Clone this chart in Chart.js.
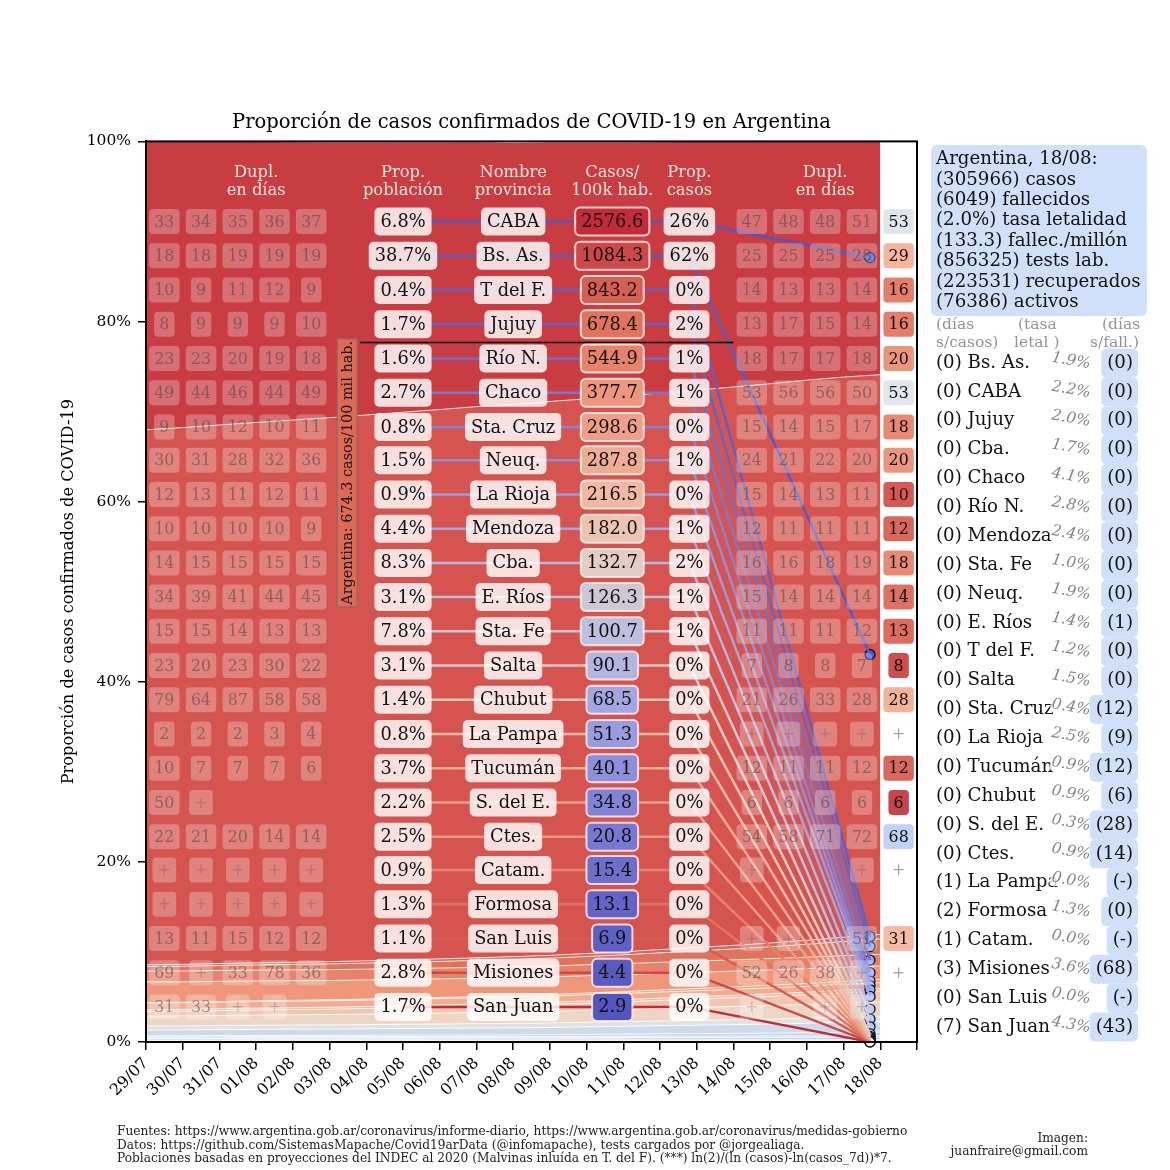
<!DOCTYPE html>
<html>
<head>
<meta charset="utf-8">
<title>Proporción de casos COVID-19</title>
<script src="https://cdn.jsdelivr.net/npm/chart.js@4"></script>
<style>
  html, body { margin: 0; padding: 0; background: #fff; }
  canvas { display: block; }
</style>
</head>
<body>
<canvas id="covidChart" width="1170" height="1170"></canvas>
<script>
var dateLabels = ["29/07", "30/07", "31/07", "01/08", "02/08", "03/08", "04/08", "05/08", "06/08", "07/08", "08/08",
    "09/08", "10/08", "11/08", "12/08", "13/08", "14/08", "15/08", "16/08", "17/08", "18/08"];

// table rows, top to bottom
var rowNames = ["CABA", "Bs. As.", "T del F.", "Jujuy", "Río N.", "Chaco", "Sta. Cruz", "Neuq.", "La Rioja", "Mendoza", "Cba.", "E. Ríos",
    "Sta. Fe", "Salta", "Chubut", "La Pampa", "Tucumán", "S. del E.", "Ctes.", "Catam.", "Formosa", "San Luis", "Misiones", "San Juan"];
var popShare = [6.8, 38.7, 0.4, 1.7, 1.6, 2.7, 0.8, 1.5, 0.9, 4.4, 8.3, 3.1, 7.8, 3.1, 1.4, 0.8, 3.7, 2.2, 2.5, 0.9, 1.3, 1.1, 2.8, 1.7];
var casesPer100k = ["2576.6", "1084.3", "843.2", "678.4", "544.9", "377.7", "298.6", "287.8", "216.5", "182.0", "132.7", "126.3",
    "100.7", "90.1", "68.5", "51.3", "40.1", "34.8", "20.8", "15.4", "13.1", "6.9", "4.4", "2.9"];
var caseShare = [26, 62, 0, 2, 1, 1, 0, 1, 0, 1, 2, 1, 1, 0, 0, 0, 0, 0, 0, 0, 0, 0, 0, 0];

// doubling days, "+" = no doubling, null = empty
var dupLeft = [
    [33, 34, 35, 36, 37], [18, 18, 19, 19, 19], [10, 9, 11, 12, 9], [8, 9, 9, 9, 10], [23, 23, 20, 19, 18], [49, 44, 46, 44, 49],
    [9, 10, 12, 10, 11], [30, 31, 28, 32, 36], [12, 13, 11, 12, 11], [10, 10, 10, 10, 9], [14, 15, 15, 15, 15], [34, 39, 41, 44, 45],
    [15, 15, 14, 13, 13], [23, 20, 23, 30, 22], [79, 64, 87, 58, 58], [2, 2, 2, 3, 4], [10, 7, 7, 7, 6], [50, "+", null, null, null],
    [22, 21, 20, 14, 14], ["+", "+", "+", "+", "+"], ["+", "+", "+", "+", "+"], [13, 11, 15, 12, 12], [69, "+", 33, 78, 36], [31, 33, "+", "+", null]];
var dupRight = [
    [47, 48, 48, 51], [25, 25, 25, 28], [14, 13, 13, 14], [13, 17, 15, 14], [18, 17, 17, 18], [53, 56, 56, 50],
    [15, 14, 15, 17], [24, 21, 22, 20], [15, 14, 13, 11], [12, 11, 11, 11], [16, 16, 18, 19], [15, 14, 14, 14],
    [11, 11, 11, 12], [7, 8, 8, 7], [21, 26, 33, 28], ["+", "+", "+", "+"], [12, 11, 11, 12], [6, 6, 6, 6],
    [54, 58, 71, 72], ["+", null, null, "+"], [null, null, null, null], ["+", "+", null, 51], [52, 26, 38, "+"], ["+", null, "+", "+"]];
var dupLast = [53, 29, 16, 16, 20, 53, 18, 20, 10, 12, 18, 14, 13, 8, 28, "+", 12, 6, 68, "+", null, 31, "+", null];

// share of cases per day (%), same order as rowNames
var shareCABA = [32.1, 31.8, 31.5, 31.2, 30.9, 30.6, 30.3, 30.0, 29.7, 29.4, 29.1, 28.8, 28.5, 28.2, 27.9, 27.6, 27.3, 27.0, 26.6, 26.3, 26.0];
var shareBsAs = [59.4, 59.6, 59.8, 60.0, 60.2, 60.4, 60.6, 60.8, 61.0, 61.2, 61.3, 61.5, 61.6, 61.7, 61.8, 61.9, 62.0, 62.1, 62.2, 62.2, 62.15];
var shareTdF = [.20, .21, .22, .23, .24, .25, .26, .27, .28, .29, .30, .31, .32, .34, .36, .38, .40, .42, .44, .47, .50];
var shareJujuy = [.50, .52, .55, .58, .61, .64, .67, .70, .74, .78, .82, .87, .92, .98, 1.05, 1.13, 1.21, 1.31, 1.43, 1.57, 1.71];
var shareRioN = [1.20, 1.20, 1.20, 1.20, 1.20, 1.20, 1.20, 1.20, 1.20, 1.20, 1.21, 1.21, 1.22, 1.22, 1.23, 1.24, 1.25, 1.26, 1.27, 1.28, 1.29];
var shareChaco = [2.30, 2.27, 2.24, 2.21, 2.18, 2.15, 2.12, 2.09, 2.06, 2.03, 2.00, 1.96, 1.92, 1.88, 1.84, 1.80, 1.75, 1.70, 1.65, 1.58, 1.51];
var shareStaCruz = [.05, .06, .07, .08, .09, .10, .11, .12, .13, .14, .15, .17, .19, .21, .23, .25, .27, .29, .31, .33, .35];
var shareNeuq = [.75, .74, .74, .73, .73, .72, .72, .71, .71, .70, .70, .69, .69, .68, .68, .67, .67, .66, .66, .65, .64];
var shareRioja = [.20, .20, .20, .21, .21, .21, .22, .22, .22, .23, .23, .24, .24, .25, .25, .26, .26, .27, .27, .28, .29];
var shareMendoza = [.50, .52, .54, .56, .58, .60, .62, .65, .68, .71, .74, .77, .81, .85, .89, .93, .97, 1.02, 1.07, 1.13, 1.19];
var shareCba = [1.10, 1.11, 1.12, 1.13, 1.14, 1.15, 1.17, 1.19, 1.21, 1.23, 1.26, 1.29, 1.32, 1.35, 1.39, 1.43, 1.47, 1.51, 1.55, 1.59, 1.63];
var shareERios = [.45, .45, .46, .46, .46, .47, .47, .48, .48, .49, .49, .50, .51, .52, .53, .54, .55, .55, .56, .57, .58];
var shareStaFe = [.65, .66, .67, .68, .69, .70, .71, .73, .75, .77, .79, .81, .84, .87, .90, .93, .97, 1.01, 1.06, 1.11, 1.16];
var shareSalta = [.12, .12, .13, .13, .14, .14, .15, .16, .17, .18, .19, .20, .22, .24, .26, .28, .30, .32, .35, .38, .41];
var shareChubut = [.13, .13, .13, .13, .13, .13, .13, .13, .13, .13, .13, .13, .13, .13, .14, .14, .14, .14, .14, .14, .14];
var shareLaPampa = [.05, .05, .05, .05, .05, .05, .05, .05, .05, .05, .05, .05, .06, .06, .06, .06, .06, .06, .06, .06, .06];
var shareTucuman = [.15, .15, .16, .16, .16, .16, .17, .17, .17, .18, .18, .18, .19, .19, .20, .20, .20, .21, .21, .22, .22];
var shareSdelE = [.05, .05, .05, .06, .06, .06, .06, .07, .07, .07, .08, .08, .08, .09, .09, .09, .10, .10, .10, .11, .11];
var shareCtes = [.09, .09, .09, .09, .09, .09, .09, .09, .09, .09, .09, .09, .09, .08, .08, .08, .08, .08, .08, .08, .08];
var shareCatam = [0, 0, 0, .01, .01, .01, .01, .01, .01, .01, .01, .01, .01, .02, .02, .02, .02, .02, .02, .02, .02];
var shareFormosa = [.03, .03, .03, .03, .03, .03, .03, .03, .02, .02, .02, .02, .02, .02, .02, .02, .02, .02, .02, .02, .02];
var shareSanLuis = [.01, .01, .01, .01, .01, .01, .01, .01, .01, .01, .01, .01, .01, .01, .01, .01, .01, .01, .01, .01, .01];
var shareMisiones = [.03, .03, .03, .03, .03, .03, .03, .03, .03, .03, .02, .02, .02, .02, .02, .02, .02, .02, .02, .02, .02];
var shareSanJuan = [.02, .02, .02, .02, .02, .02, .02, .02, .02, .01, .01, .01, .01, .01, .01, .01, .01, .01, .01, .01, .01];
var shareByRow = [shareCABA, shareBsAs, shareTdF, shareJujuy, shareRioN, shareChaco, shareStaCruz, shareNeuq, shareRioja, shareMendoza, shareCba, shareERios,
    shareStaFe, shareSalta, shareChubut, shareLaPampa, shareTucuman, shareSdelE, shareCtes, shareCatam, shareFormosa, shareSanLuis, shareMisiones, shareSanJuan];

// y position (in %) of every table row
var rowLevels = [91.1, 87.3, 83.5, 79.7, 75.9, 72.1, 68.3, 64.6, 60.8, 57.0, 53.2, 49.4, 45.6, 41.8, 38.0, 34.2, 30.4, 26.6, 22.8, 19.1, 15.3, 11.5, 7.7, 3.9];
var nationalLevel = 77.67;

// side list
var summaryLines = ["Argentina, 18/08:", "(305966) casos", "(6049) fallecidos", "(2.0%) tasa letalidad", "(133.3) fallec./millón",
    "(856325) tests lab.", "(223531) recuperados", "(76386) activos"];
var sideNames = ["Bs. As.", "CABA", "Jujuy", "Cba.", "Chaco", "Río N.", "Mendoza", "Sta. Fe", "Neuq.", "E. Ríos", "T del F.", "Salta",
    "Sta. Cruz", "La Rioja", "Tucumán", "Chubut", "S. del E.", "Ctes.", "La Pampa", "Formosa", "Catam.", "Misiones", "San Luis", "San Juan"];
var sideDays = [0, 0, 0, 0, 0, 0, 0, 0, 0, 0, 0, 0, 0, 0, 0, 0, 0, 0, 1, 2, 1, 3, 0, 7];
var sideLethality = ["1.9", "2.2", "2.0", "1.7", "4.1", "2.8", "2.4", "1.0", "1.9", "1.4", "1.2", "1.5", "0.4", "2.5", "0.9", "0.9", "0.3", "0.9", "0.0", "1.3", "0.0", "3.6", "0.0", "4.3"];
var sideDeathDays = ["0", "0", "0", "0", "0", "0", "0", "0", "0", "1", "0", "0", "12", "9", "12", "6", "28", "14", "-", "0", "-", "68", "-", "43"];

var footerLines = ["Fuentes: https://www.argentina.gob.ar/coronavirus/informe-diario, https://www.argentina.gob.ar/coronavirus/medidas-gobierno",
    "Datos: https://github.com/SistemasMapache/Covid19arData (@infomapache), tests cargados por @jorgealiaga.",
    "Poblaciones basadas en proyecciones del INDEC al 2020 (Malvinas inluída en T. del F). (***) ln(2)/(ln (casos)-ln(casos_7d))*7."];

var SERIF = '"DejaVu Serif"';

function mix(stops, t) {
    for (var i = 1; i < stops.length; i++) {
        if (t <= stops[i][0] || i === stops.length - 1) {
            var a = stops[i - 1], b = stops[i];
            var k = Math.min(1, Math.max(0, (t - a[0]) / (b[0] - a[0])));
            return [1, 2, 3].map(function(c) { return Math.round(a[c] + (b[c] - a[c]) * k); });
        }
    }
}

// blue to pale to red, low to high
var rateStops = [[0, 85, 85, 190], [.13, 100, 100, 200], [.26, 130, 130, 215], [.39, 165, 165, 225], [.435, 180, 180, 225], [.478, 190, 190, 222],
    [.52, 205, 200, 212], [.55, 220, 207, 205], [.6, 236, 197, 182], [.652, 240, 185, 165], [.72, 238, 165, 140], [.783, 236, 150, 125],
    [.826, 230, 130, 105], [.87, 224, 115, 92], [.913, 214, 95, 82], [.957, 205, 72, 72], [1, 195, 42, 58]];
// the areas run paler than the boxes at the low end
var bandStops = [[0, 150, 175, 225], [.3, 180, 200, 235], [.478, 205, 218, 235], [.52, 225, 225, 225], [.55, 235, 220, 205],
    [.6, 240, 200, 180], [.652, 243, 185, 160], [.72, 244, 165, 135], [.783, 240, 150, 122], [.826, 232, 130, 105], [.87, 224, 115, 92],
    [.913, 218, 100, 85], [.957, 213, 84, 79], [1, 201, 60, 66]];
var dupStops = [[6, 198, 68, 76], [10, 214, 90, 84], [16, 228, 125, 105], [20, 236, 148, 125], [30, 246, 186, 160], [53, 225, 230, 236], [70, 188, 208, 246]];

function rgb(c, a) { return 'rgba(' + c[0] + ',' + c[1] + ',' + c[2] + ',' + (a === undefined ? 1 : a) + ')'; }
function rank(i) { return 1 - i / (rowNames.length - 1); }

function boxText(ctx, text, x, y, o) {
    ctx.font = o.font;
    var w = ctx.measureText(text).width + o.pad * 2;
    var h = o.h;
    if (o.fill || o.stroke) {
        ctx.beginPath();
        ctx.roundRect(x - w / 2, y - h / 2, w, h, o.r || 5);
        if (o.fill) { ctx.fillStyle = o.fill; ctx.fill(); }
        if (o.stroke) { ctx.strokeStyle = o.stroke; ctx.lineWidth = 2; ctx.stroke(); }
    }
    ctx.fillStyle = o.color;
    ctx.textAlign = 'center';
    ctx.textBaseline = 'middle';
    ctx.fillText(text, x, y + 1);
}

function drawTable(chart) {
    var ctx = chart.ctx, sx = chart.scales.x, sy = chart.scales.y;
    ctx.save();
    var headers = [[3, "Dupl.", "en días"], [7, "Prop.", "población"], [10, "Nombre", "provincia"], [12.7, "Casos/", "100k hab."], [14.8, "Prop.", "casos"], [18.5, "Dupl.", "en días"]];
    ctx.font = '16.3px ' + SERIF;
    ctx.fillStyle = 'rgba(255,238,232,.95)';
    ctx.textAlign = 'center';
    ctx.textBaseline = 'middle';
    headers.forEach(function(h) {
        var x = sx.getPixelForValue(h[0]);
        ctx.fillText(h[1], x, 172.5);
        ctx.fillText(h[2], x, 191);
    });

    var dupFont = '15.8px ' + SERIF, cellFont = '17.8px ' + SERIF;
    function dupCell(v, col, y) {
        if (v === null) return;
        var label = String(v);
        boxText(ctx, label, sx.getPixelForValue(col), y, { font: dupFont, pad: 5.2, h: 25, r: 4, fill: 'rgba(255,255,255,.27)', color: v === '+' ? 'rgba(90,70,70,.28)' : 'rgba(70,60,60,.5)' });
    }
    rowNames.forEach(function(name, i) {
        var y = sy.getPixelForValue(rowLevels[i]);
        dupLeft[i].forEach(function(v, c) { dupCell(v, c + .5, y); });
        dupRight[i].forEach(function(v, c) { dupCell(v, c + 16.5, y); });
        var last = dupLast[i];
        if (last === '+') {
            boxText(ctx, '+', sx.getPixelForValue(20.5), y, { font: dupFont, pad: 5, h: 25, color: 'rgba(120,120,120,.7)' });
        } else if (last !== null) {
            boxText(ctx, String(last), sx.getPixelForValue(20.5), y, { font: dupFont, pad: 5.2, h: 25, r: 4, fill: rgb(mix(dupStops, last)), color: '#111' });
        }
        var pale = 'rgba(255,255,255,.82)';
        boxText(ctx, popShare[i].toFixed(1) + '%', sx.getPixelForValue(7), y, { font: cellFont, pad: 6, h: 28, fill: pale, color: '#111' });
        boxText(ctx, name, sx.getPixelForValue(10), y, { font: cellFont, pad: 6, h: 28, fill: pale, color: '#111' });
        boxText(ctx, casesPer100k[i], sx.getPixelForValue(12.7), y, { font: cellFont, pad: 6, h: 28, fill: rgb(mix(rateStops, rank(i))), stroke: 'rgba(255,240,235,.85)', color: '#111' });
        boxText(ctx, caseShare[i] + '%', sx.getPixelForValue(14.8), y, { font: cellFont, pad: 6, h: 28, fill: pale, color: '#111' });
    });

    // national rate label
    var lx = sx.getPixelForValue(5.48), ly = sy.getPixelForValue(63.2);
    ctx.translate(lx, ly);
    ctx.rotate(-Math.PI / 2);
    ctx.beginPath();
    ctx.rect(-134, -10, 268, 20);
    ctx.fillStyle = 'rgb(222,105,85)';
    ctx.fill();
    ctx.strokeStyle = 'rgba(120,110,110,.7)';
    ctx.lineWidth = 1.5;
    ctx.stroke();
    ctx.font = '14.4px ' + SERIF;
    ctx.fillStyle = '#111';
    ctx.textAlign = 'center';
    ctx.textBaseline = 'middle';
    ctx.fillText("Argentina: 674.3 casos/100 mil hab.", 0, 1);
    ctx.restore();
}

function drawSide(chart) {
    var ctx = chart.ctx;
    ctx.save();
    ctx.textBaseline = 'middle';
    ctx.textAlign = 'left';
    var blue = 'rgb(208,224,250)';
    ctx.beginPath();
    ctx.roundRect(931, 145, 216, 171, 6);
    ctx.fillStyle = blue;
    ctx.fill();
    ctx.font = '18.2px ' + SERIF;
    ctx.fillStyle = '#111';
    summaryLines.forEach(function(line, i) { ctx.fillText(line, 936, 159.5 + i * 20.4); });

    ctx.font = '15.5px ' + SERIF;
    ctx.fillStyle = 'rgba(120,120,120,.8)';
    ctx.fillText("(días", 936, 325);
    ctx.fillText("s/casos)", 936, 343);
    ctx.fillText("(tasa", 1018, 325);
    ctx.fillText("letal )", 1014, 343);
    ctx.fillText("(días", 1102, 325);
    ctx.fillText("s/fall.)", 1090, 343);

    sideNames.forEach(function(name, i) {
        var y = 363 + i * 28.87;
        ctx.font = '18.2px ' + SERIF;
        ctx.fillStyle = '#111';
        ctx.textAlign = 'left';
        ctx.fillText('(' + sideDays[i] + ') ' + name, 936, y);
    });
    sideNames.forEach(function(name, i) {
        var y = 363 + i * 28.87;
        ctx.save();
        ctx.translate(1071, y - 2);
        ctx.rotate(10 * Math.PI / 180);
        ctx.font = 'italic 15.5px ' + SERIF;
        ctx.textAlign = 'center';
        var w = ctx.measureText(sideLethality[i] + '%').width;
        ctx.fillStyle = 'rgba(255,255,255,.8)';
        ctx.fillRect(-w / 2 - 1, -8, w + 2, 16);
        ctx.fillStyle = 'rgba(110,110,110,.85)';
        ctx.fillText(sideLethality[i] + '%', 0, 0);
        ctx.restore();

        ctx.font = '18.2px ' + SERIF;
        var label = '(' + sideDeathDays[i] + ')';
        var w2 = ctx.measureText(label).width;
        ctx.beginPath();
        ctx.roundRect(1133 - w2 - 6, y - 14.5, w2 + 11, 29, 5);
        ctx.fillStyle = blue;
        ctx.fill();
        ctx.fillStyle = '#111';
        ctx.textAlign = 'right';
        ctx.fillText(label, 1133, y);
    });

    ctx.font = '12.2px ' + SERIF;
    ctx.fillStyle = '#222';
    ctx.textAlign = 'left';
    footerLines.forEach(function(line, i) { ctx.fillText(line, 117, 1132 + i * 13.5); });
    ctx.textAlign = 'right';
    ctx.fillText("Imagen:", 1088, 1139);
    ctx.fillText("juanfraire@gmail.com", 1088, 1152);
    ctx.restore();
}

var tablePlugin = {
    id: 'covidTable',
    afterDatasetsDraw: function(chart) {
        drawTable(chart);
        var a = chart.chartArea, ctx = chart.ctx;
        ctx.save();
        ctx.strokeStyle = '#000';
        ctx.lineWidth = 2;
        ctx.strokeRect(a.left, a.top, a.right - a.left, a.bottom - a.top);
        ctx.restore();
    },
    afterDraw: drawSide
};

// stacked bands: lowest rate at the bottom
var datasets = [];
for (var r = rowNames.length - 1; r >= 0; r--) {
    datasets.push({
        label: rowNames[r],
        data: shareByRow[r].map(function(v, d) { return { x: d, y: v }; }),
        fill: r === rowNames.length - 1 ? 'origin' : '-1',
        backgroundColor: rgb(mix(bandStops, rank(r))),
        borderColor: 'rgba(255,255,255,.8)',
        borderWidth: 1,
        pointRadius: 0,
        order: 4
    });
}

// centre of each band on the last day
var lastDay = dateLabels.length - 1;
var bandCentres = rowNames.map(function(n, i) {
    var below = 0;
    for (var k = i + 1; k < rowNames.length; k++) below += shareByRow[k][lastDay];
    return below + shareByRow[i][lastDay] / 2;
});
var DOT_X = 19.72;
var lineXs = [7, 10, 12.7, 14.8, DOT_X];

datasets.push({
    label: 'puntos',
    yAxisID: 'yOverlay',
    showLine: false,
    clip: false,
    data: bandCentres.map(function(c) { return { x: DOT_X, y: c }; }),
    pointRadius: 5,
    pointBorderWidth: 1.3,
    pointBorderColor: '#111',
    pointBackgroundColor: rowNames.map(function(n, i) {
        if (i < 2) return 'rgb(60,90,230)';
        return rgb(mix([[0, 245, 250, 255], [1, 110, 150, 245]], rank(i)));
    }),
    order: 3
});
rowNames.forEach(function(name, i) {
    datasets.push({
        label: name + ' linea',
        yAxisID: 'yOverlay',
        data: lineXs.map(function(x, k) { return { x: x, y: k < 4 ? rowLevels[i] : bandCentres[i] }; }),
        borderColor: rgb(mix(rateStops, 1 - rank(i))),
        borderWidth: 2.5,
        pointRadius: 0,
        fill: false,
        order: 2
    });
});
datasets.push({
    label: 'Argentina',
    yAxisID: 'yOverlay',
    data: [{ x: 5.83, y: nationalLevel }, { x: 16, y: nationalLevel }],
    borderColor: '#000',
    borderWidth: 1.5,
    pointRadius: 0,
    fill: false,
    order: 1
});

var tickFont = { family: SERIF, size: 16 };
new Chart(document.getElementById('covidChart'), {
    type: 'line',
    data: { datasets: datasets },
    plugins: [tablePlugin],
    options: {
        responsive: false,
        animation: false,
        devicePixelRatio: 1,
        parsing: { xAxisKey: 'x', yAxisKey: 'y' },
        layout: { padding: { left: 0, right: 253, top: 0, bottom: 0 } },
        plugins: {
            legend: { display: false },
            tooltip: { enabled: false },
            title: {
                display: true,
                fullSize: false,
                text: 'Proporción de casos confirmados de COVID-19 en Argentina',
                color: '#000',
                font: { family: SERIF, size: 19.5, weight: 'normal' },
                padding: { top: 111, bottom: 7 }
            }
        },
        scales: {
            x: {
                type: 'linear',
                min: 0,
                max: 21,
                afterFit: function(s) { s.height = 128; },
                border: { color: '#000', width: 2 },
                grid: { drawOnChartArea: false, color: '#000', lineWidth: 1.5, tickLength: 8 },
                ticks: {
                    stepSize: 1,
                    autoSkip: false,
                    maxRotation: 45,
                    minRotation: 45,
                    color: '#000',
                    padding: 4,
                    font: tickFont,
                    callback: function(v) { return dateLabels[v] || ''; }
                }
            },
            y: {
                stacked: true,
                min: 0,
                max: 100,
                afterFit: function(s) { s.width = 146; },
                border: { color: '#000', width: 2 },
                grid: { drawOnChartArea: false, color: '#000', lineWidth: 1.5, tickLength: 8 },
                title: { display: true, text: 'Proporción de casos confirmados de COVID-19', color: '#000', font: { family: SERIF, size: 16.2 }, padding: { top: 59, bottom: 0 } },
                ticks: {
                    stepSize: 20,
                    color: '#000',
                    padding: 7,
                    font: { family: SERIF, size: 15.5 },
                    callback: function(v) { return v + '%'; }
                }
            },
            yOverlay: { display: false, stacked: false, min: 0, max: 100 }
        }
    }
});
</script>
</body>
</html>
